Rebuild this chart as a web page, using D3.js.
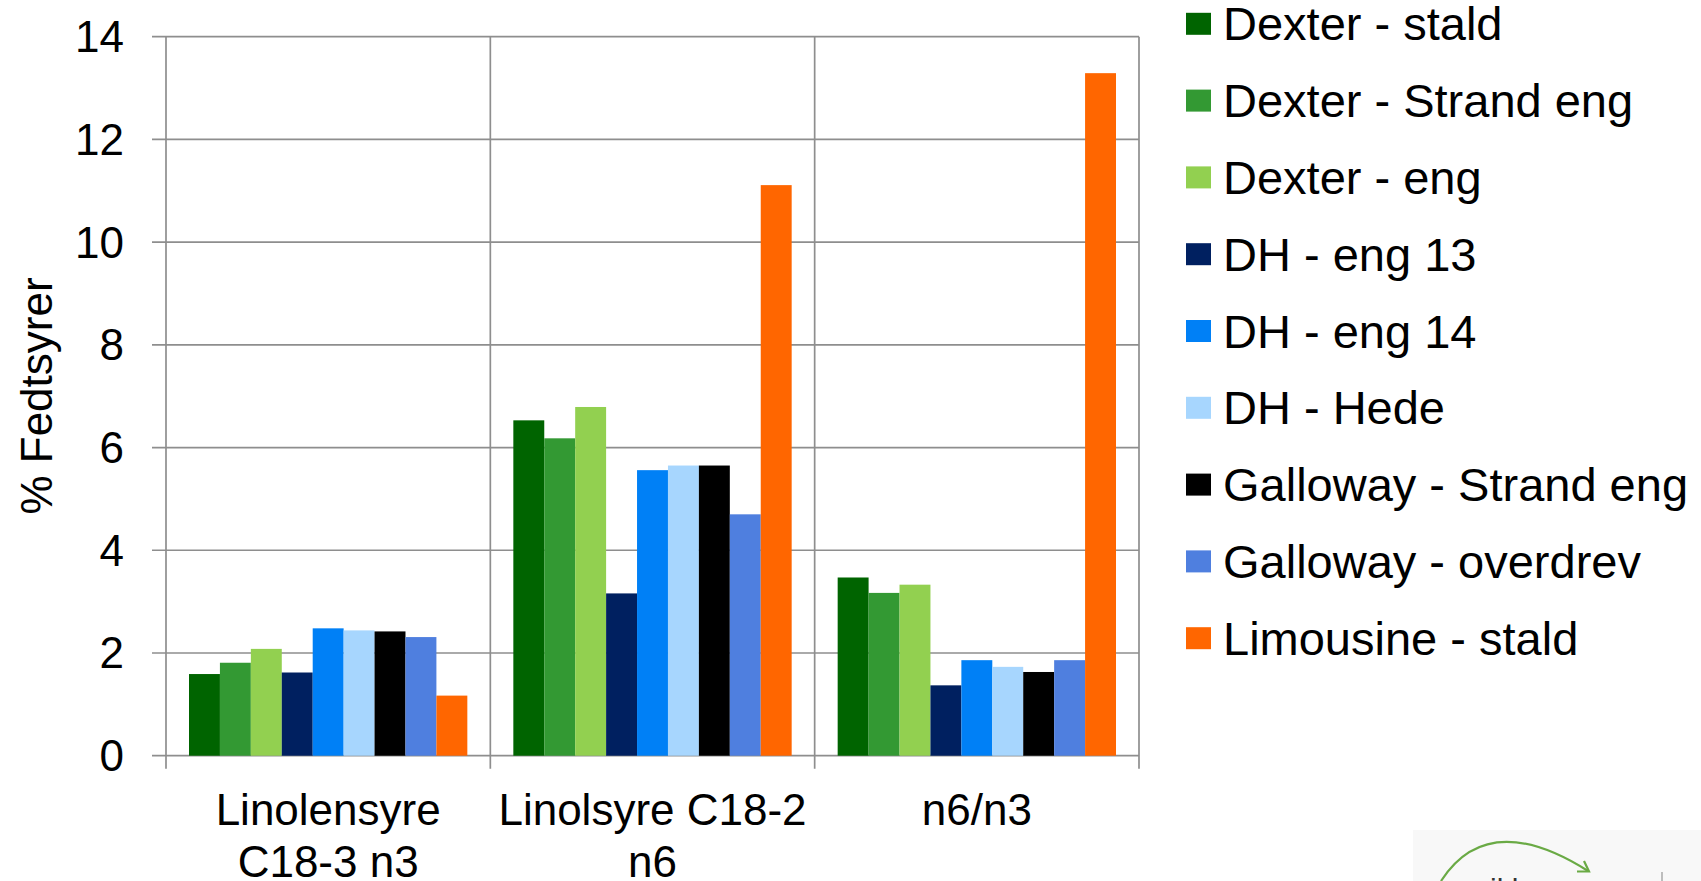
<!DOCTYPE html>
<html>
<head>
<meta charset="utf-8">
<script src="https://cdn.jsdelivr.net/npm/d3@7"></script>
<style>
  html, body { margin: 0; padding: 0; background: #fff; }
  svg { display: block; font-family: "Liberation Sans", Arial, sans-serif; }
</style>
</head>
<body>
<div id="chart"></div>
<script>
'use strict';

const width = 1701;
const height = 881;

// Categories (x-axis, one line per array entry)
const categories = ["Linolensyre C18-3 n3", "Linolsyre C18-2 n6", "n6/n3"];
const categoryLines = [["Linolensyre", "C18-3 n3"], ["Linolsyre C18-2", "n6"], ["n6/n3"]];

const seriesNames = [
	"Dexter - stald", "Dexter - Strand eng", "Dexter - eng",
	"DH - eng 13", "DH - eng 14", "DH - Hede",
	"Galloway - Strand eng", "Galloway - overdrev", "Limousine - stald"
];
const seriesColors = [
	"#006400", "#339933", "#92d050",
	"#002060", "#0080f6", "#a7d6fe",
	"#000000", "#4f7fdf", "#ff6600"
];

// values[series][category]
const dexterStald      = [1.59, 6.53, 3.47];
const dexterStrandEng  = [1.81, 6.18, 3.17];
const dexterEng        = [2.08, 6.79, 3.33];
const dhEng13          = [1.62, 3.16, 1.37];
const dhEng14          = [2.48, 5.56, 1.86];
const dhHede           = [2.44, 5.65, 1.73];
const gallowayStrand   = [2.42, 5.65, 1.63];
const gallowayOverdrev = [2.31, 4.70, 1.86];
const limousineStald   = [1.17, 11.11, 13.29];

const seriesValues = [dexterStald, dexterStrandEng, dexterEng, dhEng13, dhEng14,
	dhHede, gallowayStrand, gallowayOverdrev, limousineStald];

const yTicks = [0, 2, 4, 6, 8, 10, 12, 14];

const plot = { left: 166, right: 1139, top: 36.7, bottom: 755.7 };
const gridColor = "#8e8e8e";

const svg = d3.select("#chart").append("svg")
	.attr("width", width)
	.attr("height", height);

const x = d3.scaleBand()
	.domain(categories)
	.range([plot.left, plot.right])
	.paddingInner(0)
	.paddingOuter(0);

const x1 = d3.scaleBand()
	.domain(seriesNames)
	.range([23, x.bandwidth() - 23])
	.padding(0);

const y = d3.scaleLinear()
	.domain([0, 14])
	.range([plot.bottom, plot.top]);

// horizontal gridlines (extend out over the tick marks)
svg.append("g")
	.selectAll("line")
	.data(yTicks)
	.enter().append("line")
	.attr("x1", plot.left - 14)
	.attr("x2", plot.right)
	.attr("y1", d => y(d))
	.attr("y2", d => y(d))
	.attr("stroke", gridColor)
	.attr("stroke-width", 1.7);

// vertical gridlines at category edges, running below the axis as ticks
const edges = categories.map(c => x(c)).concat([plot.right]);
svg.append("g")
	.selectAll("line")
	.data(edges)
	.enter().append("line")
	.attr("x1", d => d)
	.attr("x2", d => d)
	.attr("y1", plot.top)
	.attr("y2", plot.bottom + 13)
	.attr("stroke", gridColor)
	.attr("stroke-width", 1.7);

// bars
const groups = svg.append("g")
	.selectAll("g")
	.data(categories)
	.enter().append("g")
	.attr("transform", d => `translate(${x(d)},0)`);

groups.selectAll("rect")
	.data((c, ci) => seriesNames.map((s, si) => ({ s, si, v: seriesValues[si][ci] })))
	.enter().append("rect")
	.attr("x", d => x1(d.s))
	.attr("width", x1.bandwidth())
	.attr("y", d => y(d.v))
	.attr("height", d => y(0) - y(d.v))
	.attr("fill", d => seriesColors[d.si]);

// y tick labels
svg.append("g")
	.selectAll("text")
	.data(yTicks)
	.enter().append("text")
	.attr("x", 124)
	.attr("y", d => y(d) + 15.5)
	.attr("text-anchor", "end")
	.attr("font-size", 44)
	.attr("fill", "#000")
	.text(d => d);

// x category labels
const xLabels = svg.append("g")
	.selectAll("text")
	.data(categories)
	.enter().append("text")
	.attr("text-anchor", "middle")
	.attr("font-size", 44)
	.attr("fill", "#000");

xLabels.selectAll("tspan")
	.data((c, i) => categoryLines[i].map(line => ({ line, c })))
	.enter().append("tspan")
	.attr("x", d => x(d.c) + x.bandwidth() / 2)
	.attr("y", (d, i) => 825 + i * 51.7)
	.text(d => d.line);

// y axis title
svg.append("text")
	.attr("transform", "translate(52,396) rotate(-90)")
	.attr("text-anchor", "middle")
	.attr("font-size", 44)
	.attr("fill", "#000")
	.text("% Fedtsyrer");

// legend
const legend = svg.append("g")
	.selectAll("g")
	.data(seriesNames)
	.enter().append("g")
	.attr("transform", (d, i) => `translate(1186,${23.8 + i * 76.8})`);

legend.append("rect")
	.attr("x", 0)
	.attr("y", -11)
	.attr("width", 25)
	.attr("height", 22)
	.attr("fill", (d, i) => seriesColors[i]);

legend.append("text")
	.attr("x", 37)
	.attr("y", 16.5)
	.attr("font-size", 47)
	.attr("fill", "#000")
	.text(d => d);

// bit of a logo peeking in at the bottom right
const logo = svg.append("g");
logo.append("rect")
	.attr("x", 1413).attr("y", 830)
	.attr("width", 288).attr("height", 51)
	.attr("fill", "#f8f8f8");
logo.append("path")
	.attr("d", "M1441,881 Q1488,808 1588,871")
	.attr("fill", "none")
	.attr("stroke", "#6aaa45")
	.attr("stroke-width", 2.2);
logo.append("path")
	.attr("d", "M1584,861 L1589,871.5 L1577,871.5")
	.attr("fill", "none")
	.attr("stroke", "#6aaa45")
	.attr("stroke-width", 2.2);
logo.append("line")
	.attr("x1", 1662).attr("x2", 1662)
	.attr("y1", 872).attr("y2", 881)
	.attr("stroke", "#aaa")
	.attr("stroke-width", 1.5);
logo.append("text")
	.attr("x", 1490).attr("y", 900)
	.attr("font-size", 30)
	.attr("fill", "#333")
	.text("ikk");
</script>
</body>
</html>
